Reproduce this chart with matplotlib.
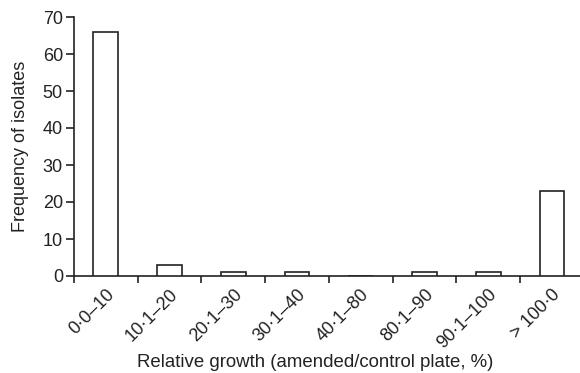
import numpy as np
import matplotlib.pyplot as plt
import matplotlib.transforms as mtransforms

plt.rcParams['font.family'] = ['Liberation Sans', 'DejaVu Sans']

# Данные гистограммы
categories = ['0·0–10', '10·1–20', '20·1–30', '30·1–40', '40·1–80',
              '80·1–90', '90·1–100', '> 100·0']
frequency = [66, 3, 1, 1, 0, 1, 1, 23]
y_ticks = [0, 10, 20, 30, 40, 50, 60, 70]

dark = '#222222'

fig = plt.figure(figsize=(5.8, 3.73), dpi=100)
ax = fig.add_axes([74 / 580, 1 - 276 / 373, 1 - 74 / 580, (276 - 17) / 373])

x = np.arange(len(categories))
ax.bar(x, frequency, width=0.39, facecolor='white', edgecolor=dark,
       linewidth=1.2, zorder=3)

ax.set_xlim(-0.5, 7.44)
ax.set_ylim(0, 70)
ax.set_yticks(y_ticks)

# Основные деления по границам категорий, подписи по центрам
ax.set_xticks(np.arange(len(categories)) - 0.5)
ax.set_xticklabels([])
ax.set_xticks(x, minor=True)
ax.set_xticklabels(categories, minor=True, rotation=45, ha='right',
                   va='top', rotation_mode='anchor')
offset = mtransforms.ScaledTranslation(18 / 100, 0, fig.dpi_scale_trans)
for lbl in ax.get_xticklabels(minor=True):
    lbl.set_transform(lbl.get_transform() + offset)

ax.tick_params(axis='x', which='major', length=5, width=1.2, color=dark)
ax.tick_params(axis='x', which='minor', length=0, pad=7, labelsize=13,
               labelcolor=dark)
ax.tick_params(axis='y', length=6, width=1.2, color=dark, labelsize=13,
               labelcolor=dark, pad=2)

for side in ['top', 'right']:
    ax.spines[side].set_visible(False)
for side in ['left', 'bottom']:
    ax.spines[side].set_linewidth(1.2)
    ax.spines[side].set_color(dark)

ax.set_ylabel('Frequency of isolates', fontsize=13, color=dark, labelpad=10)
fig.text(0.543, 0.027, 'Relative growth (amended/control plate, %)',
         fontsize=13.4, color=dark, ha='center', va='center')

fig.savefig('out.png', dpi=100)
